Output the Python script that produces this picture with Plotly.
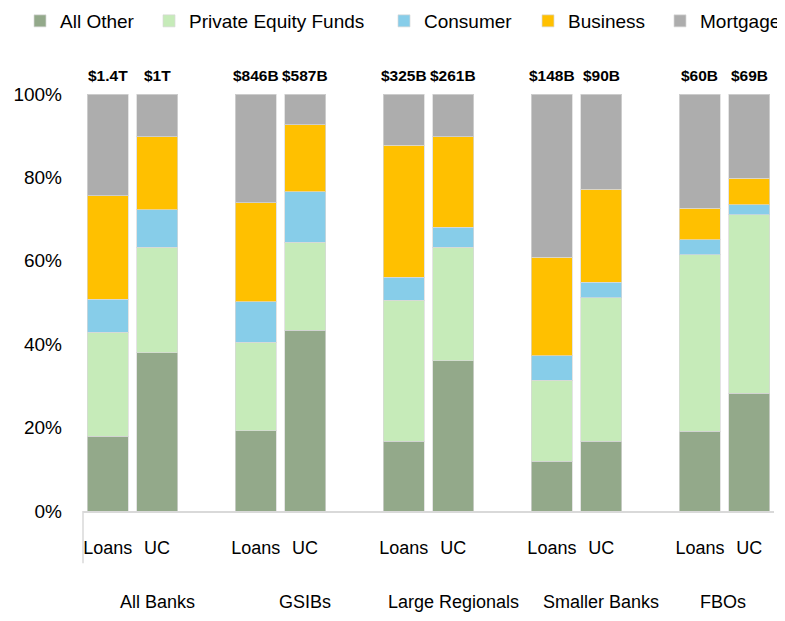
import plotly.graph_objects as go

# ---- data ----
groups = ["All Banks", "GSIBs", "Large Regionals", "Smaller Banks", "FBOs"]
bar_types = ["Loans", "UC"]
total_labels = ["$1.4T", "$1T", "$846B", "$587B", "$325B", "$261B", "$148B", "$90B", "$60B", "$69B"]

all_other = [17.9, 37.9, 19.3, 43.3, 16.7, 36.0, 11.9, 16.7, 19.1, 28.2]
private_equity = [25.0, 25.4, 21.2, 21.1, 33.8, 27.3, 19.5, 34.5, 42.4, 42.8]
consumer = [7.9, 9.0, 9.7, 12.2, 5.6, 4.7, 5.8, 3.7, 3.6, 2.5]
business = [24.8, 17.4, 23.7, 16.0, 31.6, 21.8, 23.6, 22.2, 7.5, 6.3]
mortgage = [24.4, 10.3, 26.1, 7.4, 12.3, 10.2, 39.2, 22.9, 27.4, 20.2]

y_ticks = [0, 20, 40, 60, 80, 100]

series = [
    ("All Other", all_other, "#93A98A"),
    ("Private Equity Funds", private_equity, "#C6EBB9"),
    ("Consumer", consumer, "#87CDE9"),
    ("Business", business, "#FFC000"),
    ("Mortgage", mortgage, "#ADADAD"),
]

FONT = "Liberation Sans Narrow, Arial Narrow, Liberation Sans, Arial, sans-serif"

# page has an 8px body margin, so the figure is drawn 8px smaller
W, H = 777, 613

# x positions: each group takes 3 slots (Loans, UC, gap)
xpos = []
xlab = []
for g in range(len(groups)):
    for j, bt in enumerate(bar_types):
        xpos.append(g * 3 + j)
        xlab.append(bt)

fig = go.Figure()
legend_keys = ["legend", "legend2", "legend3", "legend4", "legend5"]
for (name, vals, col), lk in zip(series, legend_keys):
    fig.add_trace(go.Bar(
        x=xpos, y=vals, name=name, legend=lk,
        marker=dict(color=col, line=dict(color="rgba(217,217,217,0.7)", width=1)),
        width=0.83,
    ))

# legend placements (figure px)
legend_x = [12, 141, 376, 520, 652]
layout_legends = {}
for lk, lx in zip(legend_keys, legend_x):
    layout_legends[lk] = dict(
        x=lx / W, y=1 - 13 / H, xref="container", yref="container",
        xanchor="left", yanchor="middle", orientation="h",
        bgcolor="rgba(0,0,0,0)", font=dict(family=FONT, size=19, color="#000"),
        borderwidth=0, tracegroupgap=0,
    )

# totals above bars
for xp, t in zip(xpos, total_labels):
    fig.add_annotation(x=xp, y=100, xref="x", yref="y", text="<b>" + t + "</b>",
                       showarrow=False, yanchor="bottom", yshift=8,
                       font=dict(family=FONT, size=15.5, color="#000"))

# group labels (plot height 417 px; label centre ~90 px below the axis)
group_x = [1, 4, 7, 10, 12.46]
for gx, gname in zip(group_x, groups):
    fig.add_annotation(x=gx, y=-90.5 / 417, xref="x", yref="paper",
                       text=gname, showarrow=False, yanchor="middle",
                       font=dict(family=FONT, size=18, color="#000"))

fig.update_layout(
    barmode="stack",
    width=W, height=H,
    margin=dict(l=75, r=11, t=86, b=110, autoexpand=False),
    paper_bgcolor="white", plot_bgcolor="white",
    showlegend=True,
    font=dict(family=FONT, color="#000"),
    xaxis=dict(
        range=[-0.5, 13.5], tickvals=xpos, ticktext=xlab,
        showgrid=False, zeroline=False, showline=True, linecolor="#D9D9D9", linewidth=2,
        ticks="", ticklabelstandoff=19,
        tickfont=dict(family=FONT, size=18, color="#000"),
    ),
    yaxis=dict(
        range=[0, 100], tickvals=y_ticks, ticktext=[f"{v}%" for v in y_ticks],
        showgrid=False, zeroline=False, showline=False, ticks="",
        ticklabelstandoff=20,
        tickfont=dict(family=FONT, size=19, color="#000"),
    ),
    **layout_legends,
)

# left separator line under the axis
fig.add_shape(type="line", xref="paper", yref="paper", x0=0, x1=0, y0=0, y1=-0.125,
              line=dict(color="#D9D9D9", width=1.5))

fig.write_html("out.html")
